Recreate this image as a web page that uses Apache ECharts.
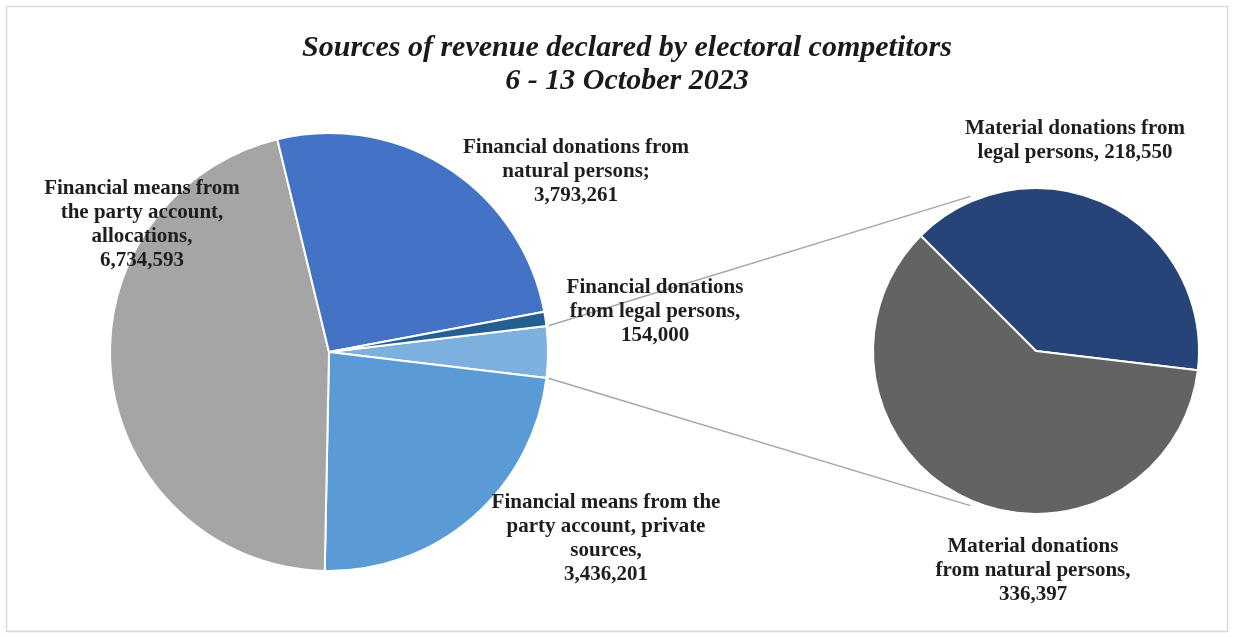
<!DOCTYPE html>
<html>
<head>
<meta charset="utf-8">
<title>Sources of revenue declared by electoral competitors</title>
<script src="https://cdn.jsdelivr.net/npm/echarts@6/dist/echarts.min.js"></script>
<style>
  html, body { margin: 0; padding: 0; background: #ffffff; }
  #chart { width: 1234px; height: 637px; }
</style>
</head>
<body>
<div id="chart"></div>
<script>
// Main pie, in drawing order (clockwise from the "Other" slice at 3 o'clock)
const mainNames = [
  'Other',
  'Financial means from the party account, private sources',
  'Financial means from the party account, allocations',
  'Financial donations from natural persons',
  'Financial donations from legal persons'
];
const mainLabels = [
  '',
  'Financial means from the\nparty account, private\nsources,\n',
  'Financial means from\nthe party account,\nallocations,\n',
  'Financial donations from\nnatural persons;\n',
  'Financial donations\nfrom legal persons,\n'
];
const mainValues = [null, 3436201, 6734593, 3793261, 154000];

// Breakdown of the "Other" slice
const subNames = [
  'Material donations from legal persons',
  'Material donations from natural persons'
];
const subLabels = [
  'Material donations from\nlegal persons, ',
  'Material donations\nfrom natural persons,\n'
];
const subValues = [218550, 336397];

const titleText = 'Sources of revenue declared by electoral competitors\n6 - 13 October 2023';

// ---- derived values ----
const otherValue = subValues.reduce((a, b) => a + b, 0);
const mainData = mainValues.map((v, i) => (i === 0 ? otherValue : v));
const mainTotal = mainData.reduce((a, b) => a + b, 0);
const otherHalfAngle = otherValue / mainTotal * 180; // degrees

// ---- layout ----
const FONT = '"Liberation Serif", "DejaVu Serif", serif';
const MAIN_C = [329, 352], MAIN_R = 219;
const SUB_C = [1036, 351], SUB_R = 163;
const SUB_START = 135;
const LINK_ANGLE = 113; // where the connector lines meet the secondary pie
const mainColors = ['#7EB0DE', '#5B9BD5', '#A5A5A5', '#4472C4', '#255E91'];
const subColors = ['#264478', '#636363'];
const mainLabelPos = [null, [606, 539], [142, 225], [576, 172], [655, 312]];
const subLabelPos = [[1075, 141], [1033, 571]];

const fmt = v => v.toLocaleString('en-US');
const rad = d => d * Math.PI / 180;
const polar = (c, r, deg) => [c[0] + r * Math.cos(rad(deg)), c[1] - r * Math.sin(rad(deg))];

const linkTop = [polar(MAIN_C, MAIN_R + 2, otherHalfAngle), polar(SUB_C, SUB_R + 5, LINK_ANGLE)];
const linkBot = [polar(MAIN_C, MAIN_R + 2, -otherHalfAngle), polar(SUB_C, SUB_R + 5, -LINK_ANGLE)];

const labelStyle = {
  fontFamily: FONT,
  fontWeight: 'bold',
  fontSize: 21,
  lineHeight: 24,
  color: '#1e1e1e',
  align: 'center'
};

const chart = echarts.init(document.getElementById('chart'), null, { renderer: 'canvas' });
chart.setOption({
  animation: false,
  backgroundColor: '#ffffff',
  title: {
    text: titleText,
    left: 622,
    top: 27,
    textAlign: 'center',
    textStyle: {
      fontFamily: FONT,
      fontStyle: 'italic',
      fontWeight: 'bold',
      fontSize: 30,
      lineHeight: 33,
      color: '#1a1a1a'
    }
  },
  graphic: [
    {
      type: 'rect', z: 0, silent: true,
      shape: { x: 6.5, y: 6.5, width: 1221, height: 625 },
      style: { fill: 'none', stroke: '#D9D9D9', lineWidth: 1.5 }
    },
    {
      type: 'line', z: 1, silent: true,
      shape: { x1: linkTop[0][0], y1: linkTop[0][1], x2: linkTop[1][0], y2: linkTop[1][1] },
      style: { stroke: '#A6A6A6', lineWidth: 1.5 }
    },
    {
      type: 'line', z: 1, silent: true,
      shape: { x1: linkBot[0][0], y1: linkBot[0][1], x2: linkBot[1][0], y2: linkBot[1][1] },
      style: { stroke: '#A6A6A6', lineWidth: 1.5 }
    }
  ],
  series: [
    {
      type: 'pie',
      z: 3,
      center: MAIN_C,
      radius: MAIN_R,
      startAngle: otherHalfAngle,
      clockwise: true,
      avoidLabelOverlap: false,
      itemStyle: { borderColor: '#ffffff', borderWidth: 2 },
      data: mainData.map((v, i) => ({
        name: mainNames[i],
        value: v,
        itemStyle: { color: mainColors[i] },
        label: { show: i !== 0 }
      })),
      label: Object.assign({
        position: 'outside',
        formatter: p => mainLabels[p.dataIndex] + fmt(p.value)
      }, labelStyle),
      labelLine: { show: false },
      labelLayout: p => {
        const pos = mainLabelPos[p.dataIndex];
        return pos ? { x: pos[0], y: pos[1], align: 'center', verticalAlign: 'middle' } : {};
      },
      emphasis: { disabled: true }
    },
    {
      type: 'pie',
      z: 3,
      center: SUB_C,
      radius: SUB_R,
      startAngle: SUB_START,
      clockwise: true,
      avoidLabelOverlap: false,
      itemStyle: { borderColor: '#ffffff', borderWidth: 2 },
      data: subValues.map((v, i) => ({
        name: subNames[i],
        value: v,
        itemStyle: { color: subColors[i] }
      })),
      label: Object.assign({
        position: 'outside',
        formatter: p => subLabels[p.dataIndex] + fmt(p.value)
      }, labelStyle),
      labelLine: { show: false },
      labelLayout: p => {
        const pos = subLabelPos[p.dataIndex];
        return { x: pos[0], y: pos[1], align: 'center', verticalAlign: 'middle' };
      },
      emphasis: { disabled: true }
    }
  ]
});
</script>
</body>
</html>
